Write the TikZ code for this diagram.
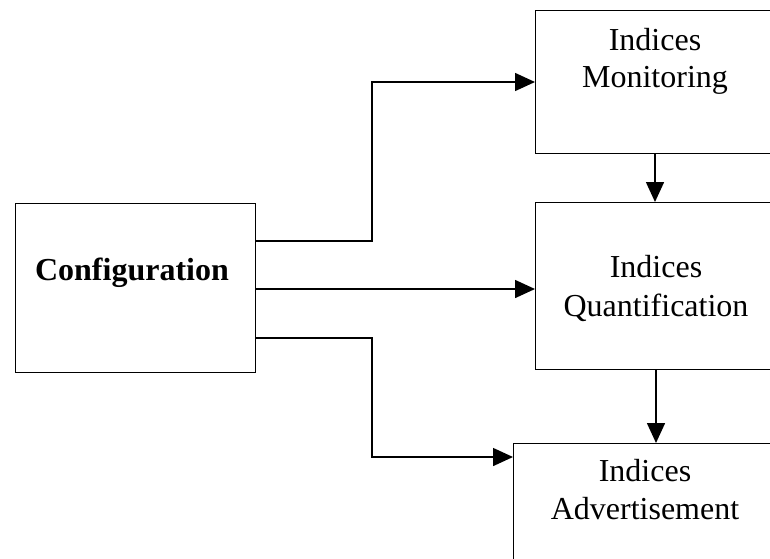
\documentclass[tikz,border=0pt]{standalone}
\usepackage{fontspec}
\setmainfont{Liberation Serif}
\usetikzlibrary{arrows.meta}
\begin{document}
\begin{tikzpicture}[x=1pt,y=-1pt,
  box/.style={draw,line width=1.4pt,rectangle,inner sep=0pt,anchor=north west},
  lbl/.style={anchor=base,inner sep=0pt,font=\fontsize{32}{39}\selectfont},
  conn/.style={line width=1.5pt,-{Triangle[length=20pt,width=18pt]}}]
\useasboundingbox (0,0) rectangle (770,558);
\clip (0,0) rectangle (770,558);
\node[box,minimum width=240pt,minimum height=169pt] (cfg) at (15,203) {};
\node[box,minimum width=280pt,minimum height=143pt] (mon) at (535,10) {};
\node[box,minimum width=280pt,minimum height=167pt] (qua) at (535,202) {};
\node[box,minimum width=300pt,minimum height=160pt] (adv) at (513,443) {};
\node[lbl,font=\fontsize{32}{39}\selectfont\bfseries] (tcfg) at (132,280) {Configuration};
\node[lbl] (tmon1) at (655,50) {Indices};
\node[lbl] (tmon2) at (655,87) {Monitoring};
\node[lbl] (tqua1) at (656,277) {Indices};
\node[lbl] (tqua2) at (656,316) {Quantification};
\node[lbl] (tadv1) at (645,481) {Indices};
\node[lbl] (tadv2) at (645,519) {Advertisement};
\draw[conn] (cfg.east |- 0,241) -| (372,82) -- (mon.west |- 0,82);
\draw[conn] (cfg.east |- 0,289) -- (qua.west |- 0,289);
\draw[conn] (cfg.east |- 0,338) -| (372,457) -- (adv.west |- 0,457);
\draw[conn] (mon.south -| 655,0) -- (qua.north -| 655,0);
\draw[conn] (qua.south -| 656,0) -- (adv.north -| 656,0);
\end{tikzpicture}
\end{document}
